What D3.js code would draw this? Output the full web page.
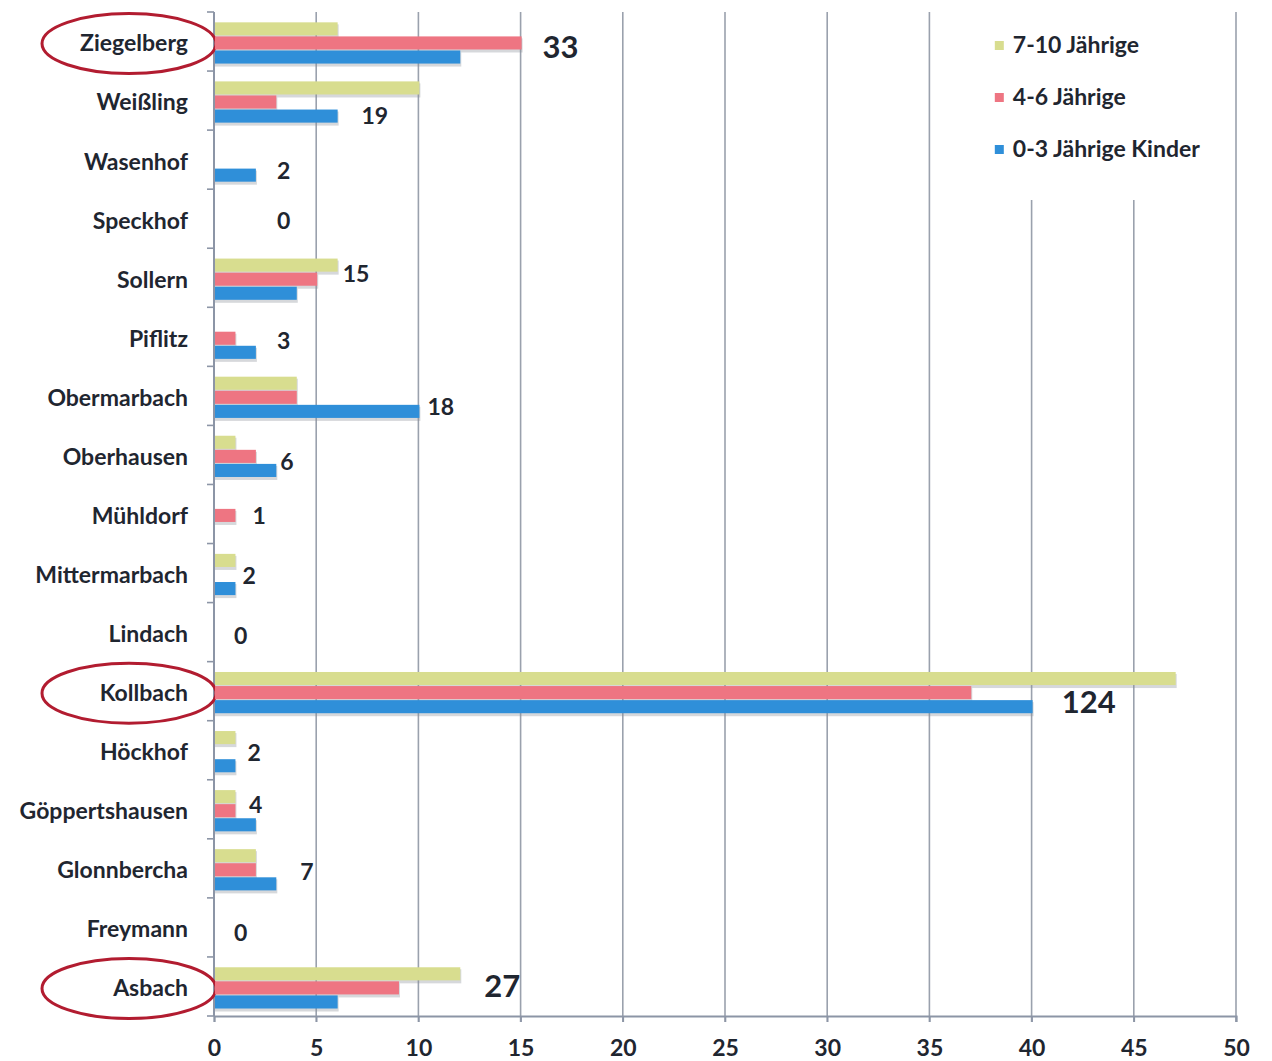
<!DOCTYPE html>
<html>
<head>
<meta charset="utf-8">
<script src="https://cdn.jsdelivr.net/npm/d3@7"></script>
<style>
  html, body { margin: 0; padding: 0; background: #ffffff; }
  svg { display: block; }
  text { font-family: Lato, "Open Sans", sans-serif; fill: #1f2630; }
</style>
</head>
<body>
<svg id="chart" width="1272" height="1061"></svg>
<script>
// ---------------- data ----------------
const categories = ["Ziegelberg", "Weißling", "Wasenhof", "Speckhof", "Sollern", "Piflitz",
  "Obermarbach", "Oberhausen", "Mühldorf", "Mittermarbach", "Lindach", "Kollbach",
  "Höckhof", "Göppertshausen", "Glonnbercha", "Freymann", "Asbach"];
const jahre710 = [6, 10, 0, 0, 6, 0, 4, 1, 0, 1, 0, 47, 1, 1, 2, 0, 12];   // 7-10 Jährige
const jahre46  = [15, 3, 0, 0, 5, 1, 4, 2, 1, 0, 0, 37, 0, 1, 2, 0, 9];    // 4-6 Jährige
const kinder03 = [12, 6, 2, 0, 4, 2, 10, 3, 0, 1, 0, 40, 1, 2, 3, 0, 6];   // 0-3 Jährige Kinder
const totals   = [33, 19, 2, 0, 15, 3, 18, 6, 1, 2, 0, 124, 2, 4, 7, 0, 27];
const seriesNames = ["7-10 Jährige", "4-6 Jährige", "0-3 Jährige Kinder"];
const highlighted = ["Ziegelberg", "Kollbach", "Asbach"];
const xTicks = [0, 5, 10, 15, 20, 25, 30, 35, 40, 45, 50];

// ---------------- layout / style ----------------
const colors = ["#d8dd8f", "#ee7582", "#2f8fd9"];
const margin = { left: 214, right: 36, top: 12, bottom: 45 };
const W = 1272, H = 1061;
// per-label nudges (pixels) from the end of the longest bar / band centre
const labelNudge = {
  "Ziegelberg": [22, 6], "Weißling": [-57, 15], "Wasenhof": [22, 10], "Speckhof": [63, 1],
  "Sollern": [6, -5], "Piflitz": [22, 3], "Obermarbach": [9, 10], "Oberhausen": [5, 6],
  "Mühldorf": [18, 1], "Mittermarbach": [8, 2], "Lindach": [20, 3], "Kollbach": [-113, 11],
  "Höckhof": [13, 2], "Göppertshausen": [-6, -5], "Glonnbercha": [25, 3], "Freymann": [20, 5],
  "Asbach": [25, 0]
};

const svg = d3.select("#chart");
const x = d3.scaleLinear().domain([0, 50]).range([margin.left, W - margin.right]);
const y = d3.scaleBand().domain(categories).range([margin.top, H - margin.bottom]).padding(0);
const sub = d3.scaleBand().domain([0, 1, 2])
  .range([y.bandwidth() * 0.175, y.bandwidth() * 0.89]).padding(0);

const rows = categories.map((c, i) => ({
  cat: c, vals: [jahre710[i], jahre46[i], kinder03[i]], total: totals[i]
}));

// gridlines
svg.append("g").selectAll("line").data(xTicks.filter(t => t > 0)).join("line")
  .attr("x1", d => x(d)).attr("x2", d => x(d))
  .attr("y1", margin.top).attr("y2", H - margin.bottom + 6)
  .attr("stroke", "#9aa1ad").attr("stroke-width", 1.6);

// legend background covers gridlines behind it
svg.append("rect").attr("x", x(37.5) + 10).attr("y", 0)
  .attr("width", x(48.5) - x(37.5) - 10).attr("height", 200).attr("fill", "#fff");

// x axis
const xAxis = svg.append("g").attr("transform", `translate(0,${H - margin.bottom})`)
  .call(d3.axisBottom(x).tickValues(xTicks).tickSize(6).tickPadding(18));
xAxis.select(".domain").attr("stroke", "#8c95a6").attr("stroke-width", 2);
xAxis.selectAll(".tick line").attr("stroke", "#8c95a6").attr("stroke-width", 1.6);
xAxis.selectAll(".tick text").attr("font-size", 23).attr("font-weight", 700)
  .attr("font-family", "Lato, sans-serif").attr("fill", "#1f2630");

// y axis (ticks at band boundaries)
const yAxisG = svg.append("g");
yAxisG.append("line").attr("x1", x(0)).attr("x2", x(0))
  .attr("y1", margin.top).attr("y2", H - margin.bottom)
  .attr("stroke", "#8c95a6").attr("stroke-width", 2);
const bounds = categories.map(c => y(c)).concat([y(categories[categories.length - 1]) + y.bandwidth()]);
yAxisG.selectAll("line.tk").data(bounds).join("line").attr("class", "tk")
  .attr("x1", x(0) - 7).attr("x2", x(0)).attr("y1", d => d).attr("y2", d => d)
  .attr("stroke", "#8c95a6").attr("stroke-width", 1.6);
yAxisG.selectAll("text").data(categories).join("text")
  .attr("x", x(0) - 26).attr("y", d => y(d) + y.bandwidth() / 2 + 4)
  .attr("text-anchor", "end").attr("dominant-baseline", "middle")
  .attr("font-size", 23).attr("font-weight", 700).text(d => d);

// highlight ellipses
svg.append("g").selectAll("ellipse").data(highlighted).join("ellipse")
  .attr("cx", x(0) - 85).attr("cy", d => y(d) + y.bandwidth() / 2 + 2)
  .attr("rx", 87).attr("ry", 30)
  .attr("fill", "none").attr("stroke", "#b21c30").attr("stroke-width", 3);

// bars
const groups = svg.append("g").selectAll("g").data(rows).join("g")
  .attr("transform", d => `translate(0,${y(d.cat)})`);
groups.selectAll("rect.shadow").data(d => d.vals.map((v, k) => ({ v, k }))).join("rect")
  .attr("class", "shadow")
  .attr("x", x(0) + 1).attr("y", d => sub(d.k) + 2)
  .attr("width", d => d.v > 0 ? x(d.v) - x(0) + 1 : 0).attr("height", sub.bandwidth())
  .attr("fill", "#8a8f98").attr("opacity", 0.35);
groups.selectAll("rect.bar").data(d => d.vals.map((v, k) => ({ v, k }))).join("rect")
  .attr("class", "bar")
  .attr("x", x(0) + 1).attr("y", d => sub(d.k))
  .attr("width", d => d.v > 0 ? x(d.v) - x(0) : 0).attr("height", sub.bandwidth() - 1)
  .attr("fill", d => colors[d.k]);

// total labels
svg.append("g").selectAll("text").data(rows).join("text")
  .attr("x", d => x(d3.max(d.vals)) + labelNudge[d.cat][0])
  .attr("y", d => y(d.cat) + y.bandwidth() / 2 + labelNudge[d.cat][1] + 3)
  .attr("dominant-baseline", "middle")
  .attr("font-size", d => highlighted.includes(d.cat) ? 31 : 23)
  .attr("font-weight", 700)
  .text(d => d.total);

// legend
const lg = svg.append("g").attr("transform", `translate(${x(38.2)},0)`);
const li = lg.selectAll("g").data(seriesNames).join("g")
  .attr("transform", (d, i) => `translate(0,${46 + i * 52})`);
li.append("rect").attr("x", 0).attr("y", -5).attr("width", 9).attr("height", 9)
  .attr("fill", (d, i) => colors[i]);
li.append("text").attr("x", 18).attr("y", 1).attr("dominant-baseline", "middle")
  .attr("font-size", 23).attr("font-weight", 700).text(d => d);
</script>
</body>
</html>
